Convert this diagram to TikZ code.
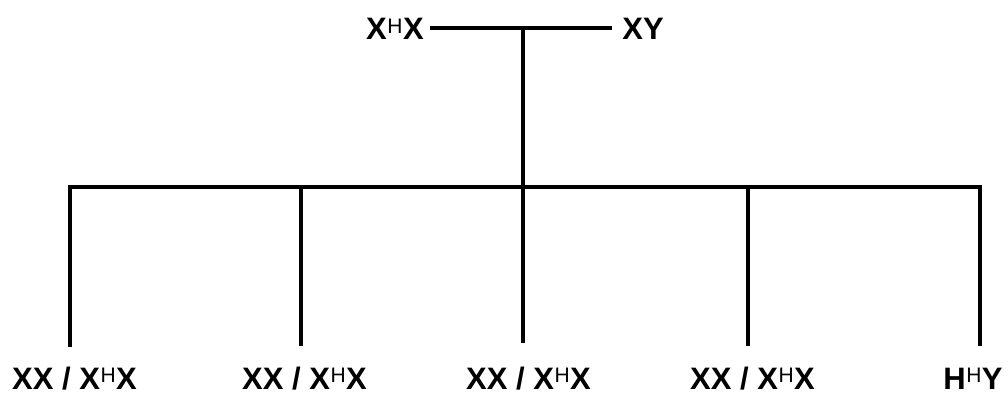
\documentclass[tikz,border=0pt]{standalone}
\usepackage{fontspec}
\setmainfont{Liberation Sans}
\newcommand\hsup{\kern0.5pt\raisebox{6.5pt}{\fontsize{21}{21}\selectfont\mdseries H}\kern0.5pt}
\begin{document}
\begin{tikzpicture}[x=1pt,y=-1pt,
  lbl/.style={font=\fontsize{31}{32}\selectfont\bfseries, inner sep=0pt, anchor=base}]
\useasboundingbox (0,0) rectangle (1008,394);
% parents
\node[lbl] (p1) at (395,39.5) {X\hsup X};
\node[lbl] (p2) at (643,39.5) {XY};
\coordinate (pl) at (430,28);
\coordinate (pr) at (612,28);
\coordinate (pm) at (523,28);
\coordinate (hm) at (523,187);
\coordinate (hl) at (70,187);
\coordinate (hr) at (980,187);
% children
\node[lbl] (c1) at (74.5,389) {XX / X\hsup X};
\node[lbl] (c2) at (304.5,389) {XX / X\hsup X};
\node[lbl] (c3) at (528.5,389) {XX / X\hsup X};
\node[lbl] (c4) at (752.5,389) {XX / X\hsup X};
\node[lbl] (c5) at (973,389) {H\hsup Y};
\coordinate (d1) at (70,347);
\coordinate (d2) at (301,346);
\coordinate (d3) at (523,343);
\coordinate (d4) at (748,346);
\coordinate (d5) at (980,346);
\coordinate (t2) at (301,187);
\coordinate (t4) at (748,187);
\draw[line width=4pt] (pl) -- (pr);
\draw[line width=4pt] (pm) -- (hm);
\draw[line width=4pt, line join=miter] (d1) -- (hl) -- (hr) -- (d5);
\draw[line width=4pt] (t2) -- (d2);
\draw[line width=4pt] (hm) -- (d3);
\draw[line width=4pt] (t4) -- (d4);
\end{tikzpicture}
\end{document}
